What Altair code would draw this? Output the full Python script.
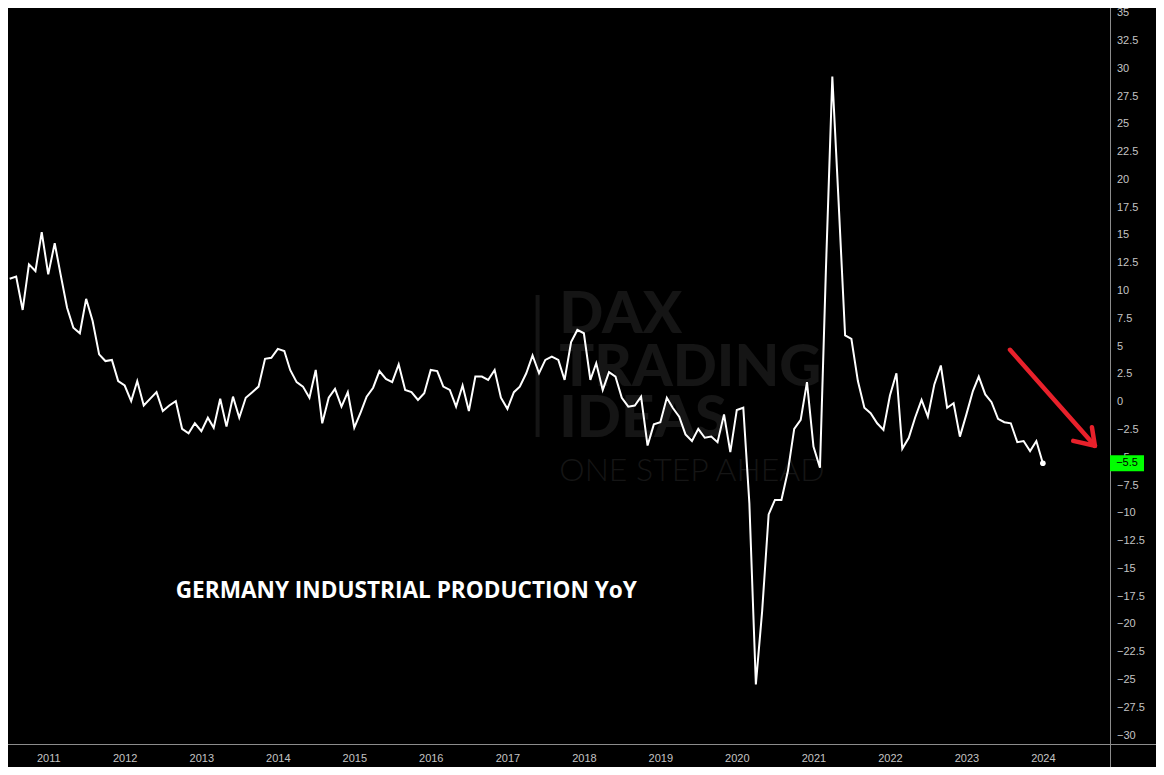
import altair as alt
import pandas as pd

# Monthly YoY % values, Jul 2010 .. Jan 2024
START = "2010-07-01"
values = [
    11.1, 11.3, 8.3, 12.4, 11.8, 15.3,            # 2010 Jul-Dec
    11.5, 14.3, 11.5, 8.5, 6.7, 6.2, 9.3, 7.3, 4.3, 3.7, 3.8, 1.9,   # 2011
    1.5, 0.1, 1.9, -0.3, 0.3, 0.9, -0.8, -0.3, 0.1, -2.4, -2.8, -1.9,  # 2012
    -2.6, -1.4, -2.3, 0.3, -2.2, 0.5, -1.4, 0.4, 0.9, 1.4, 3.9, 4.0,   # 2013
    4.8, 4.6, 2.9, 1.8, 1.4, 0.4, 2.9, -1.9, 0.4, 1.2, -0.4, 0.9,      # 2014
    -2.3, -0.9, 0.5, 1.3, 2.8, 2.1, 1.8, 3.4, 1.1, 0.9, 0.2, 0.8,      # 2015
    2.9, 2.8, 1.4, 1.1, -0.4, 1.5, -0.8, 2.3, 2.3, 2.0, 2.9, 0.4,      # 2016
    -0.6, 0.9, 1.4, 2.6, 4.2, 2.6, 3.8, 4.1, 3.8, 2.0, 5.4, 6.5,       # 2017
    6.2, 2.0, 3.5, 1.1, 2.7, 2.3, 0.4, -0.4, -0.3, 0.5, -3.9, -2.0,    # 2018
    -1.8, 0.4, -0.5, -1.3, -2.9, -3.5, -2.4, -3.2, -3.1, -3.6, -1.1, -4.5,  # 2019
    -0.7, -0.5, -9.1, -25.4, -18.8, -10.1, -8.8, -8.8, -6.2, -2.4, -1.6, 1.8,  # 2020
    -4.0, -5.9, 11.7, 29.3, 18.0, 6.0, 5.7, 1.9, -0.5, -1.0, -1.9, -2.5,  # 2021
    0.6, 2.6, -4.2, -3.2, -1.4, 0.2, -1.3, 1.6, 3.3, -0.5, -0.1, -3.1,   # 2022
    -1.1, 1.0, 2.3, 0.7, 0.0, -1.5, -1.8, -1.9, -3.6, -3.5, -4.4, -3.5,  # 2023
    -5.5,                                                               # 2024 Jan
]
dates = pd.date_range(START, periods=len(values), freq="MS").strftime("%Y-%m-%d")
years = list(range(2011, 2025))
y_ticks = [x / 2 for x in range(-60, 71, 5)]
title_text = "GERMANY INDUSTRIAL PRODUCTION YoY"
wm_lines = ["DAX", "TRADING", "IDEAS"]
wm_sub = "ONE STEP AHEAD"

df = pd.DataFrame({"date": list(dates), "value": values})
last = df.tail(1)
one = pd.DataFrame({"k": [0]})
ticks_df = pd.DataFrame({
    "v": y_ticks,
    "lab": [f"{v:g}".replace("-", "\u2212") for v in y_ticks],
})

# geometry (whole chart is 1148 x 759 inside the 8px page margin)
SX, SY = 1148 / 1164, 759 / 775
W, H = 1102, 736
PR, PB = 1148 - W, 759 - H


def px(x):
    return round(x * SX, 1)


def py(y):
    return round(y * SY, 1)


WM = "#151515"
AXC = "#8c8c8c"
LABC = "#c4c4c4"

xscale = alt.Scale(
    type="utc",
    domain=[alt.DateTime(year=2010, month=6, date=23, utc=True),
            alt.DateTime(year=2024, month=11, date=16, hours=12, utc=True)],
)
yscale = alt.Scale(domain=[-30.76, 35.47], nice=False, zero=False)

xaxis = alt.Axis(
    values=[alt.DateTime(year=y, month=1, date=1, utc=True) for y in years],
    format="%Y", domain=False, ticks=False, grid=False, title=None,
    labelColor=LABC, labelFont="Liberation Sans", labelFontSize=11,
    labelPadding=8, labelOverlap=False, labelFlush=False,
)

base = alt.Chart(df)

# watermark
wm_layers = []
for t, yb in zip(wm_lines, [332, 386, 438]):
    wm_layers.append(
        alt.Chart(one).mark_text(
            text=t, font="Lato", fontWeight=900, fontSize=58, color=WM,
            align="left", baseline="alphabetic",
        ).encode(x=alt.value(px(559)), y=alt.value(py(yb)))
    )
wm_layers.append(
    alt.Chart(one).mark_text(
        text=wm_sub, font="Lato", fontWeight=300, fontSize=32, color=WM,
        align="left", baseline="alphabetic",
    ).encode(x=alt.value(px(559)), y=alt.value(py(483)))
)
wm_layers.append(
    alt.Chart(one).mark_rule(color=WM, strokeWidth=4).encode(
        x=alt.value(px(537)), y=alt.value(py(293)), y2=alt.value(py(438)))
)

line = base.mark_line(color="white", strokeWidth=2).encode(
    x=alt.X("date:T", scale=xscale, axis=xaxis),
    y=alt.Y("value:Q", scale=yscale, axis=None),
)
dot = alt.Chart(last).mark_circle(color="white", size=32, opacity=1).encode(
    x=alt.X("date:T", scale=xscale), y=alt.Y("value:Q", scale=yscale))

ylabels = alt.Chart(ticks_df).mark_text(
    color=LABC, font="Liberation Sans", fontSize=11, align="left",
    baseline="middle",
).encode(x=alt.value(W + 7), y=alt.Y("v:Q", scale=yscale), text="lab:N")

title = alt.Chart(one).mark_text(
    text=title_text, font="Open Sans", fontWeight="bold", fontSize=22.6,
    color="white", align="left", baseline="alphabetic",
).encode(x=alt.value(px(170)), y=alt.value(py(602)))

vline = alt.Chart(one).mark_rule(color=AXC, strokeWidth=1).encode(
    x=alt.value(W + 0.5), y=alt.value(0), y2=alt.value(H + PB))
hline = alt.Chart(one).mark_rule(color=AXC, strokeWidth=1).encode(
    x=alt.value(0), x2=alt.value(W + PR), y=alt.value(H + 0.5))

RED = "#e8212b"
arrow_segs = [
    ((1016, 349), (1102, 447)),
    ((1099, 428), (1102, 447)),
    ((1080, 442), (1102, 447)),
]
arrow = [
    alt.Chart(one).mark_rule(color=RED, strokeWidth=4.5, strokeCap="round").encode(
        x=alt.value(px(a[0])), y=alt.value(py(a[1])),
        x2=alt.value(px(b[0])), y2=alt.value(py(b[1])))
    for a, b in arrow_segs
]

badge = alt.Chart(last).mark_tick(
    color="#00ff00", size=34, thickness=16, opacity=1
).encode(x=alt.value(W + 17), y=alt.Y("value:Q", scale=yscale))
badge_txt = alt.Chart(last).mark_text(
    color="black", font="Liberation Sans", fontSize=11, align="center",
    baseline="middle",
).encode(x=alt.value(W + 17), y=alt.Y("value:Q", scale=yscale),
         text=alt.Text("value:Q", format=".1f"))

chart = alt.layer(
    *wm_layers, line, dot, ylabels, title, vline, hline, *arrow, badge, badge_txt
).properties(
    width=W, height=H,
    autosize=alt.AutoSizeParams(type="none"),
    padding={"left": 0, "top": 0, "right": PR, "bottom": PB},
    background="#000000",
).configure_view(stroke=None)

chart.save("out.html", embed_options={"renderer": "svg", "actions": False})
